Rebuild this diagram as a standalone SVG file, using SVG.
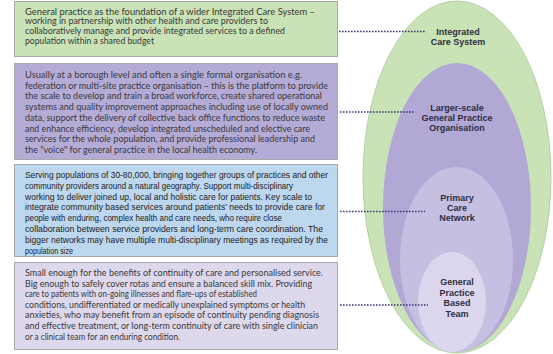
<svg xmlns="http://www.w3.org/2000/svg" width="553" height="354" viewBox="0 0 553 354">
<style>
.box{stroke:#a8a8a8;stroke-width:1}
.t{font-family:Lato,"Open Sans","Liberation Sans",sans-serif;font-size:9px;fill:#3a3a3a}
.a{font-family:"Liberation Sans",Arial,sans-serif;font-size:8.2px;fill:#222}
.lbl{font-family:"Liberation Sans",Arial,sans-serif;font-size:9px;font-weight:bold;fill:#2e2e3e;text-anchor:middle}
.dot{stroke:#3d3a78;stroke-width:1.6;stroke-dasharray:1.6 1.4;fill:none}
</style>
<rect width="553" height="354" fill="#ffffff"/>
<g id="ellipses">
<ellipse id="ics" cx="457" cy="177" rx="94" ry="176" fill="#c9e2b6" stroke="#a9c79a" stroke-width="0.8"/>
<ellipse id="gpo" cx="457" cy="207.5" rx="74" ry="144.5" fill="#b1a8d6"/>
<ellipse id="pcn" cx="456.5" cy="259.5" rx="56.5" ry="92.5" fill="#c5bfe2"/>
<ellipse id="gpt" cx="452" cy="302" rx="34" ry="50" fill="#dcd7ee"/>
</g>
<g id="box1">
<rect class="box" x="14.5" y="1.5" width="323" height="55" fill="#c9e2b6"/>
<text class="t" x="25" y="14.5" textLength="290" lengthAdjust="spacingAndGlyphs">General practice as the foundation of a wider Integrated Care System –</text>
<text class="t" x="25" y="24.3" textLength="243" lengthAdjust="spacingAndGlyphs">working in partnership with other health and care providers to</text>
<text class="t" x="25" y="34.1" textLength="260" lengthAdjust="spacingAndGlyphs">collaboratively manage and provide integrated services to a defined</text>
<text class="t" x="25" y="43.9" textLength="129" lengthAdjust="spacingAndGlyphs">population within a shared budget</text>
</g>
<g id="box2">
<rect class="box" x="14.5" y="63.5" width="323" height="96" fill="#b4abd6"/>
<text class="t" x="25" y="78" textLength="277" lengthAdjust="spacingAndGlyphs">Usually at a borough level and often a single formal organisation e.g.</text>
<text class="t" x="25" y="88.7" textLength="303" lengthAdjust="spacingAndGlyphs">federation or multi-site practice organisation – this is the platform to provide</text>
<text class="t" x="25" y="99.4" textLength="297" lengthAdjust="spacingAndGlyphs">the scale to develop and train a broad workforce, create shared operational</text>
<text class="t" x="25" y="110.1" textLength="303" lengthAdjust="spacingAndGlyphs">systems and quality improvement approaches including use of locally owned</text>
<text class="t" x="25" y="120.8" textLength="300" lengthAdjust="spacingAndGlyphs">data, support the delivery of collective back office functions to reduce waste</text>
<text class="t" x="25" y="131.5" textLength="285" lengthAdjust="spacingAndGlyphs">and enhance efficiency, develop integrated unscheduled and elective care</text>
<text class="t" x="25" y="142.2" textLength="290" lengthAdjust="spacingAndGlyphs">services for the whole population, and provide professional leadership and</text>
<text class="t" x="25" y="152.9" textLength="232" lengthAdjust="spacingAndGlyphs">the "voice" for general practice in the local health economy.</text>
</g>
<g id="box3">
<rect class="box" x="14.5" y="164.5" width="323" height="92" fill="#bdd7ee"/>
<text class="a" x="25" y="178" textLength="303" lengthAdjust="spacingAndGlyphs">Serving populations of 30-80,000, bringing together groups of practices and other</text>
<text class="a" x="25" y="188.8" textLength="268" lengthAdjust="spacingAndGlyphs">community providers around a natural geography. Support multi-disciplinary</text>
<text class="a" x="25" y="199.6" textLength="287" lengthAdjust="spacingAndGlyphs">working to deliver joined up, local and holistic care for patients. Key scale to</text>
<text class="a" x="25" y="210.4" textLength="300" lengthAdjust="spacingAndGlyphs">integrate community based services around patients’ needs to provide care for</text>
<text class="a" x="25" y="221.2" textLength="257" lengthAdjust="spacingAndGlyphs">people with enduring, complex health and care needs, who require close</text>
<text class="a" x="25" y="232" textLength="298" lengthAdjust="spacingAndGlyphs">collaboration between service providers and long-term care coordination. The</text>
<text class="a" x="25" y="242.8" textLength="303" lengthAdjust="spacingAndGlyphs">bigger networks may have multiple multi-disciplinary meetings as required by the</text>
<text class="a" x="25" y="253.6" textLength="48" lengthAdjust="spacingAndGlyphs">population size</text>
</g>
<g id="box4">
<rect class="box" x="14.5" y="262.5" width="323" height="87" fill="#ddd8ec"/>
<text class="t" x="25" y="276" textLength="298" lengthAdjust="spacingAndGlyphs">Small enough for the benefits of continuity of care and personalised service.</text>
<text class="t" x="25" y="286.6" textLength="287" lengthAdjust="spacingAndGlyphs">Big enough to safely cover rotas and ensure a balanced skill mix. Providing</text>
<text class="t" x="25" y="297.2" textLength="232" lengthAdjust="spacingAndGlyphs">care to patients with on-going illnesses and flare-ups of established</text>
<text class="t" x="25" y="307.8" textLength="280" lengthAdjust="spacingAndGlyphs">conditions, undifferentiated or medically unexplained symptoms or health</text>
<text class="t" x="25" y="318.4" textLength="294" lengthAdjust="spacingAndGlyphs">anxieties, who may benefit from an episode of continuity pending diagnosis</text>
<text class="t" x="25" y="329" textLength="293" lengthAdjust="spacingAndGlyphs">and effective treatment, or long-term continuity of care with single clinician</text>
<text class="t" x="25" y="339.6" textLength="155" lengthAdjust="spacingAndGlyphs">or a clinical team for an enduring condition.</text>
</g>
<g id="connectors">
<line class="dot" x1="339" y1="31.5" x2="425" y2="31.5"/>
<line class="dot" x1="340" y1="112" x2="415" y2="112"/>
<line class="dot" x1="340" y1="211.5" x2="425" y2="211.5"/>
<line class="dot" x1="340" y1="305" x2="428" y2="305"/>
</g>
<g id="labels">
<text class="lbl" x="458" y="34.8">Integrated</text>
<text class="lbl" x="458" y="45.2">Care System</text>
<text class="lbl" x="457" y="110.6">Larger-scale</text>
<text class="lbl" x="457" y="121">General Practice</text>
<text class="lbl" x="457" y="131.4">Organisation</text>
<text class="lbl" x="457" y="200.6">Primary</text>
<text class="lbl" x="457" y="211">Care</text>
<text class="lbl" x="457" y="221.4">Network</text>
<text class="lbl" x="457" y="285">General</text>
<text class="lbl" x="457" y="295.5">Practice</text>
<text class="lbl" x="457" y="306">Based</text>
<text class="lbl" x="457" y="316.5">Team</text>
</g>
</svg>
